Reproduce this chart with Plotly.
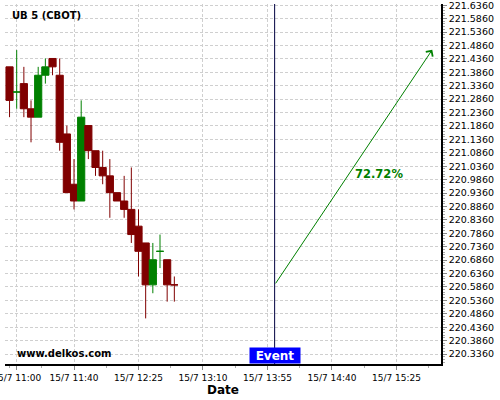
import plotly.graph_objects as go

DAY = "2015-07-15 "

# 5-minute candles (UB 5, CBOT)
times = ["10:55", "11:00", "11:05", "11:10", "11:15", "11:20", "11:25", "11:30",
         "11:35", "11:40", "11:45", "11:50", "11:55", "12:00", "12:05", "12:10",
         "12:15", "12:20", "12:25", "12:30", "12:35", "12:40", "12:45", "12:50"]
opens = [221.40625, 221.3125, 221.34375, 221.25, 221.21875, 221.375, 221.4375, 221.375,
         221.15625, 220.96875, 220.90625, 221.1875, 221.09375, 221.03125, 221.0, 220.9375,
         220.90625, 220.875, 220.8125, 220.75, 220.59375, 220.71875, 220.6875, 220.59375]
highs = [221.40625, 221.46875, 221.40625, 221.28125, 221.40625, 221.4375, 221.4375, 221.4375,
         221.1875, 221.0625, 221.28125, 221.1875, 221.09375, 221.09375, 221.0625, 220.9375,
         221.0, 221.03125, 220.875, 220.75, 220.75, 220.78125, 220.6875, 220.625]
lows = [221.21875, 221.25, 221.21875, 221.125, 221.21875, 221.34375, 221.375, 221.09375,
        220.9375, 220.875, 220.90625, 221.0625, 221.0, 220.96875, 220.84375, 220.90625,
        220.84375, 220.75, 220.625, 220.46875, 220.5625, 220.65625, 220.53125, 220.53125]
closes = [221.28125, 221.3125, 221.25, 221.21875, 221.375, 221.40625, 221.40625, 221.125,
          220.9375, 220.90625, 221.21875, 221.09375, 221.03125, 221.0, 220.9375, 220.90625,
          220.875, 220.78125, 220.71875, 220.59375, 220.6875, 220.71875, 220.59375, 220.59375]

x_tick_times = ["11:00", "11:40", "12:25", "13:10", "13:55", "14:40", "15:25"]
x_tick_labels = ["15/7 11:00", "15/7 11:40", "15/7 12:25", "15/7 13:10",
                 "15/7 13:55", "15/7 14:40", "15/7 15:25"]
y_tick_values = [220.336, 220.386, 220.436, 220.486, 220.536, 220.586, 220.636,
                 220.686, 220.736, 220.786, 220.836, 220.886, 220.936, 220.986,
                 221.036, 221.086, 221.136, 221.186, 221.236, 221.286, 221.336,
                 221.386, 221.436, 221.486, 221.536, 221.586, 221.636]

event_time = "14:00"
arrow_start_time, arrow_start_price = "14:00", 220.59375
arrow_end_time, arrow_end_price = "15:50", 221.47
prob_label = "72.72%"
prob_time, prob_price = "15:13", 221.006

x_range = ["10:51:50", "15:56:06"]
y_range = [220.2988, 221.6405]

FONT = "DejaVu Sans"
GREEN = "#008000"
RED = "#800000"

fig = go.Figure()
fig.add_trace(go.Candlestick(
    x=[DAY + t for t in times], open=opens, high=highs, low=lows, close=closes,
    increasing=dict(line=dict(color=GREEN, width=1), fillcolor=GREEN),
    decreasing=dict(line=dict(color=RED, width=1), fillcolor=RED),
    whiskerwidth=0, showlegend=False, hoverinfo="skip",
))

fig.add_shape(type="line", xref="x", yref="paper",
              x0=DAY + event_time, x1=DAY + event_time, y0=0, y1=1,
              line=dict(color="#000040", width=1), layer="above")

fig.add_annotation(x=DAY + arrow_end_time, y=arrow_end_price,
                   ax=DAY + arrow_start_time, ay=arrow_start_price,
                   xref="x", yref="y", axref="x", ayref="y",
                   text="", showarrow=True, arrowhead=4, arrowsize=1.6,
                   arrowwidth=1, arrowcolor=GREEN)

fig.add_annotation(x=DAY + prob_time, y=prob_price, xref="x", yref="y",
                   text="<b>" + prob_label + "</b>", showarrow=False,
                   font=dict(family=FONT, size=11.5, color=GREEN))

fig.add_annotation(x=DAY + event_time, y=0, xref="x", yref="paper",
                   yanchor="bottom", text="<b>Event</b>", showarrow=False,
                   font=dict(family=FONT, size=12, color="white"),
                   bgcolor="#0000ff", width=50, height=15, borderpad=0)

fig.add_annotation(x=0.0115, y=0.969, xref="paper", yref="paper",
                   xanchor="left", yanchor="middle", text="<b>UB 5 (CBOT)</b>",
                   showarrow=False, font=dict(family=FONT, size=10, color="black"))

fig.add_annotation(x=0.023, y=0.028, xref="paper", yref="paper",
                   xanchor="left", yanchor="middle", text="<b>www.delkos.com</b>",
                   showarrow=False, font=dict(family=FONT, size=10, color="black"))

grid = dict(showgrid=True, gridcolor="#cfcfcf", gridwidth=1, griddash="3px,2px")

fig.update_layout(
    width=500, height=400,
    margin=dict(l=5, r=59, t=4, b=36),
    paper_bgcolor="white", plot_bgcolor="white",
    font=dict(family=FONT, color="black"),
    boxgap=0, boxgroupgap=0,
    xaxis=dict(
        type="date", range=[DAY + x_range[0], DAY + x_range[1]],
        tickvals=[DAY + t for t in x_tick_times], ticktext=x_tick_labels,
        tickfont=dict(family=FONT, size=9, color="black"),
        ticklabeloverflow="allow", automargin=False,
        ticks="outside", ticklen=4, tickcolor="#888888",
        showline=True, linecolor="black", linewidth=1.5, zeroline=False,
        rangeslider=dict(visible=False),
        title=dict(text="<b>Date</b>", font=dict(family=FONT, size=12), standoff=4),
        minor=dict(ticks="outside", ticklen=2, tickcolor="#aaaaaa",
                   tick0=DAY + "11:40", dtick=1350000, showgrid=False),
        **grid,
    ),
    yaxis=dict(
        side="right", range=y_range, tickvals=y_tick_values, tickformat=".4f",
        tickfont=dict(family=FONT, size=9.5, color="black"),
        ticklabeloverflow="allow", automargin=False,
        ticks="outside", ticklen=4, tickcolor="#888888",
        showline=True, linecolor="black", linewidth=1.5, zeroline=False,
        minor=dict(ticks="outside", ticklen=2, tickcolor="#aaaaaa",
                   tick0=220.336, dtick=0.01, showgrid=False),
        **grid,
    ),
)

fig.write_html("out.html", config={"displayModeBar": False},
               post_script="document.body.style.margin='0';document.body.style.padding='0';")
